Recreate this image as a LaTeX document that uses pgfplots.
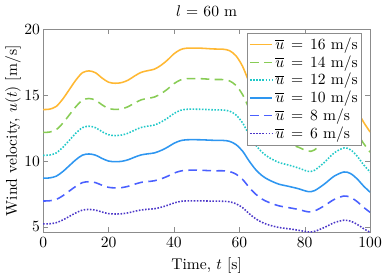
\documentclass[border=0pt]{standalone}
\usepackage{pgfplots}
\usepackage{pgfplotstable}
\pgfplotsset{compat=1.18}
\definecolor{c16}{RGB}{255,184,51}
\definecolor{c14}{RGB}{136,204,85}
\definecolor{c12}{RGB}{32,200,200}
\definecolor{c10}{RGB}{46,150,240}
\definecolor{c8}{RGB}{74,96,255}
\definecolor{c6}{RGB}{75,54,200}
\definecolor{axgray}{RGB}{140,140,140}
\pgfplotstableread{
t a16 a14 a12 a10 a8 a6
0 13.92 12.18 10.44 8.70 6.96 5.22
2 13.95 12.21 10.46 8.72 6.98 5.23
4 14.16 12.39 10.62 8.85 7.08 5.31
6 14.72 12.88 11.04 9.20 7.36 5.52
8 15.44 13.51 11.58 9.65 7.72 5.79
10 16.16 14.14 12.12 10.10 8.08 6.06
12 16.72 14.63 12.54 10.45 8.36 6.27
14 16.86 14.76 12.65 10.54 8.43 6.32
16 16.72 14.63 12.54 10.45 8.36 6.27
18 16.32 14.28 12.24 10.20 8.16 6.12
20 16.00 14.00 12.00 10.00 8.00 6.00
22 15.92 13.93 11.94 9.95 7.96 5.97
24 15.97 13.97 11.98 9.98 7.98 5.99
26 16.16 14.14 12.12 10.10 8.08 6.06
28 16.48 14.42 12.36 10.30 8.24 6.18
30 16.75 14.66 12.56 10.47 8.38 6.28
32 16.88 14.77 12.66 10.55 8.44 6.33
34 16.99 14.87 12.74 10.62 8.50 6.37
36 17.28 15.12 12.96 10.80 8.64 6.48
38 17.68 15.47 13.26 11.05 8.84 6.63
40 18.16 15.89 13.62 11.35 9.08 6.81
42 18.48 16.17 13.86 11.55 9.24 6.93
44 18.59 16.27 13.94 11.62 9.30 6.97
48 18.59 16.27 13.94 11.62 9.30 6.97
52 18.53 16.21 13.90 11.58 9.26 6.95
55 18.51 16.20 13.88 11.57 9.26 6.94
57 18.40 16.10 13.80 11.50 9.20 6.90
59 18.00 15.75 13.50 11.25 9.00 6.75
61 17.20 15.05 12.90 10.75 8.60 6.45
63 16.00 14.00 12.00 10.00 8.00 6.00
65 14.96 13.09 11.22 9.35 7.48 5.61
67 14.21 12.43 10.66 8.88 7.10 5.33
69 13.71 12.00 10.28 8.57 6.86 5.14
72 13.20 11.55 9.90 8.25 6.60 4.95
75 12.93 11.31 9.70 8.08 6.46 4.85
78 12.64 11.06 9.48 7.90 6.32 4.74
81 12.29 10.75 9.22 7.68 6.14 4.61
83 12.40 10.85 9.30 7.75 6.20 4.65
86 13.20 11.55 9.90 8.25 6.60 4.95
89 14.16 12.39 10.62 8.85 7.08 5.31
92 14.67 12.84 11.00 9.17 7.34 5.50
94 14.48 12.67 10.86 9.05 7.24 5.43
96 13.84 12.11 10.38 8.65 6.92 5.19
98 12.96 11.34 9.72 8.10 6.48 4.86
100 12.21 10.68 9.16 7.63 6.10 4.58
}\datatable
\begin{document}
\begin{tikzpicture}
\begin{axis}[
  scale only axis,
  width=210pt, height=130pt,
  xmin=0, xmax=100, ymin=4.6, ymax=20,
  xtick={0,20,...,100}, ytick={5,10,15,20},
  tick align=inside, tick pos=both,
  major tick length=3pt,
  axis line style={axgray},
  tick style={axgray},
  title={$l$ = 60 m},
  title style={yshift=-1pt},
  xlabel={Time, $t$ [s]},
  ylabel={Wind velocity, $u(t)$ [m/s]},
  ylabel style={yshift=-4.5pt},
  yticklabel style={xshift=1.5pt},
  legend style={draw=axgray, fill=white, row sep=-1.6pt, inner sep=1pt, at={(0.975,0.985)}, anchor=north east,
    nodes={inner xsep=1.5pt}},
  legend image code/.code={\draw[#1] (0cm,0cm) -- (0.5cm,0cm);},
  legend cell align=left,
]
\addplot[c16, line width=1pt, smooth] table[x=t,y=a16]{\datatable};
\addlegendentry{$\overline{u}\,=\,16$ m/s}
\addplot[c14, line width=1pt, smooth, dash pattern=on 5.5pt off 3.5pt] table[x=t,y=a14]{\datatable};
\addlegendentry{$\overline{u}\,=\,14$ m/s}
\addplot[c12, line width=1pt, smooth, dash pattern=on 1pt off 1pt] table[x=t,y=a12]{\datatable};
\addlegendentry{$\overline{u}\,=\,12$ m/s}
\addplot[c10, line width=1pt, smooth] table[x=t,y=a10]{\datatable};
\addlegendentry{$\overline{u}\,=\,10$ m/s}
\addplot[c8, line width=1pt, smooth, dash pattern=on 5.5pt off 3.5pt] table[x=t,y=a8]{\datatable};
\addlegendentry{$\overline{u}\,=\,8$ m/s}
\addplot[c6, line width=1pt, smooth, dash pattern=on 1pt off 1pt] table[x=t,y=a6]{\datatable};
\addlegendentry{$\overline{u}\,=\,6$ m/s}
\end{axis}
\end{tikzpicture}
\end{document}
